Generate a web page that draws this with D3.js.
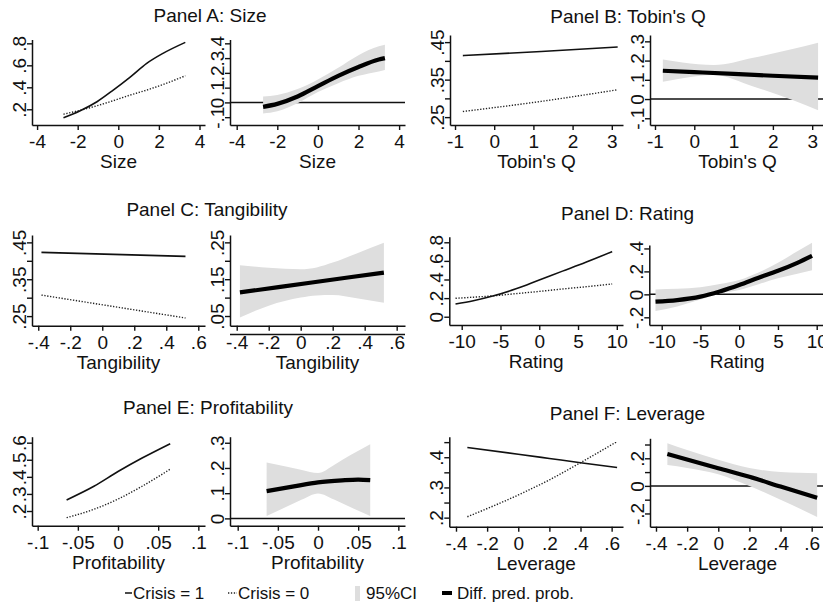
<!DOCTYPE html>
<html><head><meta charset="utf-8">
<script src="https://cdn.jsdelivr.net/npm/d3@7"></script>
<style>
body{margin:0;background:#fff}
svg{display:block}
text{font-family:"Liberation Sans",Arial,Helvetica,sans-serif;fill:#111}
</style>
</head><body>
<svg id="chart" width="823" height="608"></svg>
<script>
// ---------- DATA ----------
// Panel A: Size
const sizeX        = [-2.7, -1.9, -1.05, -0.25, 0.6, 1.4, 2.2, 3.3];
const sizeCrisis1  = [0.124, 0.185, 0.269, 0.375, 0.496, 0.618, 0.709, 0.809];
const sizeCrisis0  = [0.155, 0.19, 0.232, 0.278, 0.33, 0.375, 0.425, 0.505];
const sizeDiffX    = [-2.7, -2, -1, 0, 1, 2, 3, 3.3];
const sizeDiff     = [-0.03, -0.01, 0.04, 0.11, 0.18, 0.24, 0.29, 0.30];
const sizeHi       = [0.04, 0.05, 0.09, 0.155, 0.235, 0.32, 0.38, 0.39];
const sizeLo       = [-0.075, -0.06, -0.005, 0.07, 0.13, 0.18, 0.21, 0.22];
const sizeXTicks   = [-4, -2, 0, 2, 4];
const sizeLYTicks  = [0.2, 0.4, 0.6, 0.8];
const sizeRYTicks  = [-0.1, 0, 0.1, 0.2, 0.3, 0.4];

// Panel B: Tobin's Q
const tobinX       = [-0.8, 1.2, 3.15];
const tobinCrisis1 = [0.414, 0.425, 0.437];
const tobinCrisis0 = [0.265, 0.292, 0.323];
const tobinDiffX   = [-0.8, 0, 1, 2, 3.15];
const tobinDiff    = [0.147, 0.140, 0.131, 0.121, 0.111];
const tobinBandX   = [-0.8, -0.3, 0.5, 1.5, 2.5, 3.15];
const tobinHi      = [0.205, 0.19, 0.177, 0.215, 0.26, 0.293];
const tobinLo      = [0.09, 0.108, 0.125, 0.065, -0.005, -0.058];
const tobinXTicks  = [-1, 0, 1, 2, 3];
const tobinLYTicks = [0.25, 0.3, 0.35, 0.4, 0.45];
const tobinLYLabels= [0.25, 0.35, 0.45];
const tobinRYTicks = [-0.1, 0, 0.1, 0.2, 0.3];

// Panel C: Tangibility
const tangX        = [-0.38, 0.07, 0.52];
const tangCrisis1  = [0.423, 0.4175, 0.412];
const tangCrisis0  = [0.307, 0.276, 0.245];
const tangDiffX    = [-0.38, 0.07, 0.52];
const tangDiff     = [0.114, 0.141, 0.168];
const tangBandX    = [-0.38, -0.2, 0, 0.1, 0.2, 0.35, 0.52];
const tangHi       = [0.188, 0.181, 0.177, 0.182, 0.195, 0.22, 0.249];
const tangLo       = [0.046, 0.078, 0.1, 0.106, 0.107, 0.098, 0.086];
const tangXTicks   = [-0.4, -0.2, 0, 0.2, 0.4, 0.6];
const tangLYTicks  = [0.25, 0.3, 0.35, 0.4, 0.45];
const tangLYLabels = [0.25, 0.35, 0.45];
const tangRYTicks  = [0.05, 0.1, 0.15, 0.2, 0.25];
const tangRYLabels = [0.05, 0.15, 0.25];

// Panel D: Rating
const ratingX        = [-10.8, -8.5, -6, -3, 0, 3, 6, 9.4];
const ratingCrisis1  = [0.137, 0.172, 0.222, 0.30, 0.395, 0.49, 0.585, 0.70];
const ratingCrisis0  = [0.198, 0.21, 0.224, 0.248, 0.272, 0.298, 0.322, 0.352];
const ratingDiffX    = [-10.8, -8, -5, -2.5, 0, 2.5, 5, 7.5, 9.4];
const ratingDiff     = [-0.064, -0.05, -0.02, 0.025, 0.081, 0.145, 0.205, 0.275, 0.336];
const ratingHi       = [0.043, 0.048, 0.062, 0.09, 0.125, 0.19, 0.275, 0.375, 0.449];
const ratingLo       = [-0.145, -0.105, -0.045, 0.008, 0.037, 0.088, 0.14, 0.18, 0.211];
const ratingXTicks   = [-10, -5, 0, 5, 10];
const ratingLYTicks  = [0, 0.2, 0.4, 0.6, 0.8];
const ratingRYTicks  = [-0.2, 0, 0.2, 0.4];

// Panel E: Profitability
const profX        = [-0.064, -0.03, 0, 0.03, 0.065];
const profCrisis1  = [0.265, 0.345, 0.431, 0.51, 0.594];
const profCrisis0  = [0.161, 0.21, 0.27, 0.345, 0.445];
const profDiffX    = [-0.064, -0.03, 0, 0.03, 0.05, 0.065];
const profDiff     = [0.108, 0.127, 0.143, 0.151, 0.154, 0.152];
const profBandX    = [-0.064, -0.04, -0.02, 0, 0.02, 0.04, 0.065];
const profHi       = [0.222, 0.206, 0.192, 0.18, 0.212, 0.25, 0.294];
const profLo       = [0.009, 0.045, 0.075, 0.099, 0.075, 0.045, 0.009];
const profXTicks   = [-0.1, -0.05, 0, 0.05, 0.1];
const profLYTicks  = [0.2, 0.3, 0.4, 0.5, 0.6];
const profRYTicks  = [0, 0.1, 0.2, 0.3];

// Panel F: Leverage
const levX         = [-0.327, 0, 0.2, 0.4, 0.635];
const levCrisis1   = [0.432, 0.41, 0.396, 0.382, 0.366];
const levCrisis0   = [0.203, 0.275, 0.325, 0.382, 0.452];
const levDiffX     = [-0.327, 0, 0.2, 0.4, 0.635];
const levDiff      = [0.231, 0.128, 0.066, -0.005, -0.087];
const levBandX     = [-0.327, -0.2, 0, 0.2, 0.4, 0.635];
const levHi        = [0.309, 0.26, 0.19, 0.13, 0.1, 0.091];
const levLo        = [0.151, 0.13, 0.085, 0.0, -0.1, -0.225];
const levXTicks    = [-0.4, -0.2, 0, 0.2, 0.4, 0.6];
const levLYTicks   = [0.2, 0.25, 0.3, 0.35, 0.4, 0.45];
const levLYLabels  = [0.2, 0.3, 0.4];
const levRYTicks   = [-0.2, -0.1, 0, 0.1, 0.2, 0.3];
const levRYLabels  = [-0.2, 0, 0.2];

const legendLabels = ["Crisis = 1", "Crisis = 0", "95%CI", "Diff. pred. prob."];

// ---------- LAYOUT ----------
const svg = d3.select("#chart");
const BAND = "#dedede";
const FONT = 19;

const fmt = v => {
  if (Math.abs(v) < 1e-9) return "0";
  const s = String(+v.toFixed(4));
  return s.replace(/^(-?)0\./, "$1.");
};
const zip = (xs, ys) => xs.map((x, i) => [x, ys[i]]);

const panels = [
  { title: "Panel A: Size", tx: 210, ty: 22, xlab: "Size", xTicks: sizeXTicks,
    L: { xr: [32, 205], yr: [125, 39.5], xd: [-4.25, 4.27], yd: [0.057, 0.835], yTicks: sizeLYTicks, yLabels: sizeLYTicks },
    R: { xr: [230, 405], yr: [125, 39.5], xd: [-4.33, 4.29], yd: [-0.153, 0.426], yTicks: sizeRYTicks, yLabels: sizeRYTicks },
    c1: zip(sizeX, sizeCrisis1), c0: zip(sizeX, sizeCrisis0), diff: zip(sizeDiffX, sizeDiff),
    band: sizeDiffX.map((x, i) => [x, sizeLo[i], sizeHi[i]]) },
  { title: "Panel B: Tobin's Q", tx: 628, ty: 23, xlab: "Tobin's Q", xTicks: tobinXTicks,
    L: { xr: [450, 623], yr: [125, 35], xd: [-1.128, 3.286], yd: [0.229, 0.469], yTicks: tobinLYTicks, yLabels: tobinLYLabels },
    R: { xr: [650, 825], yr: [125, 35], xd: [-1.127, 3.326], yd: [-0.135, 0.333], yTicks: tobinRYTicks, yLabels: tobinRYTicks },
    c1: zip(tobinX, tobinCrisis1), c0: zip(tobinX, tobinCrisis0), diff: zip(tobinDiffX, tobinDiff),
    band: tobinBandX.map((x, i) => [x, tobinLo[i], tobinHi[i]]) },
  { title: "Panel C: Tangibility", tx: 207, ty: 216, xlab: "Tangibility", xTicks: tangXTicks,
    L: { xr: [32, 205], yr: [325.7, 235], xd: [-0.439, 0.642], yd: [0.224, 0.47], yTicks: tangLYTicks, yLabels: tangLYLabels },
    R: { xr: [230, 405], yr: [325.7, 235], xd: [-0.442, 0.652], yd: [0.0237, 0.27], yTicks: tangRYTicks, yLabels: tangRYLabels },
    c1: zip(tangX, tangCrisis1), c0: zip(tangX, tangCrisis0), diff: zip(tangDiffX, tangDiff),
    band: tangBandX.map((x, i) => [x, tangLo[i], tangHi[i]]) },
  { title: "Panel D: Rating", tx: 627.5, ty: 220, xlab: "Rating", xTicks: ratingXTicks,
    L: { xr: [449.3, 623], yr: [325, 236.7], xd: [-11.6, 10.8], yd: [-0.089, 0.86], yTicks: ratingLYTicks, yLabels: ratingLYTicks },
    R: { xr: [649.3, 825], yr: [325, 245], xd: [-11.6, 11.07], yd: [-0.267, 0.43], yTicks: ratingRYTicks, yLabels: ratingRYTicks },
    c1: zip(ratingX, ratingCrisis1), c0: zip(ratingX, ratingCrisis0), diff: zip(ratingDiffX, ratingDiff),
    band: ratingDiffX.map((x, i) => [x, ratingLo[i], ratingHi[i]]) },
  { title: "Panel E: Profitability", tx: 208, ty: 414, xlab: "Profitability", xTicks: profXTicks,
    L: { xr: [32, 205], yr: [525.7, 436.7], xd: [-0.1071, 0.1083], yd: [0.114, 0.635], yTicks: profLYTicks, yLabels: profLYTicks },
    R: { xr: [230, 405], yr: [525.7, 436.7], xd: [-0.1096, 0.1083], yd: [-0.029, 0.324], yTicks: profRYTicks, yLabels: profRYTicks },
    c1: zip(profX, profCrisis1), c0: zip(profX, profCrisis0), diff: zip(profDiffX, profDiff),
    band: profBandX.map((x, i) => [x, profLo[i], profHi[i]]) },
  { title: "Panel F: Leverage", tx: 627.5, ty: 420, xlab: "Leverage", xTicks: levXTicks,
    L: { xr: [449.3, 623], yr: [526.7, 436.7], xd: [-0.443, 0.673], yd: [0.17, 0.468], yTicks: levLYTicks, yLabels: levLYLabels },
    R: { xr: [650, 825], yr: [526.7, 438.3], xd: [-0.4385, 0.6855], yd: [-0.296, 0.345], yTicks: levRYTicks, yLabels: levRYLabels },
    c1: zip(levX, levCrisis1), c0: zip(levX, levCrisis0), diff: zip(levDiffX, levDiff),
    band: levBandX.map((x, i) => [x, levLo[i], levHi[i]]) }
];

function drawAxes(g, x, y, cfg, xTicks, xlab) {
  const xa = g.append("g").attr("transform", `translate(0,${cfg.yr[0]})`)
    .call(d3.axisBottom(x).tickValues(xTicks).tickSize(5).tickSizeOuter(0).tickFormat(fmt));
  const ya = g.append("g").attr("transform", `translate(${cfg.xr[0]},0)`)
    .call(d3.axisLeft(y).tickValues(cfg.yTicks).tickSize(5).tickSizeOuter(0)
      .tickFormat(v => cfg.yLabels.some(l => Math.abs(l - v) < 1e-9) ? fmt(v) : ""));
  [xa, ya].forEach(a => {
    a.select(".domain").attr("stroke", "#111").attr("stroke-width", 1.5);
    a.selectAll(".tick line").attr("stroke", "#111").attr("stroke-width", 1.4);
    a.selectAll("text").attr("font-size", FONT).attr("fill", "#111")
      .style("font-family", '"Liberation Sans",Arial,sans-serif');
  });
  xa.selectAll(".tick text").attr("y", 23).attr("dy", 0);
  ya.selectAll(".tick text").attr("x", 0).attr("y", -6.5).attr("dy", 0)
    .attr("text-anchor", "middle").attr("transform", "rotate(-90)");
  g.append("text").attr("x", (cfg.xr[0] + cfg.xr[1]) / 2).attr("y", cfg.yr[0] + 43)
    .attr("text-anchor", "middle").attr("font-size", FONT).text(xlab);
}

panels.forEach(p => {
  const g = svg.append("g");
  g.append("text").attr("x", p.tx).attr("y", p.ty).attr("text-anchor", "middle")
    .attr("font-size", FONT).text(p.title);

  // Left: predicted probabilities
  {
    const c = p.L;
    const x = d3.scaleLinear().domain(c.xd).range(c.xr);
    const y = d3.scaleLinear().domain(c.yd).range(c.yr);
    const line = d3.line().x(d => x(d[0])).y(d => y(d[1])).curve(d3.curveMonotoneX);
    g.append("path").attr("d", line(p.c0)).attr("fill", "none").attr("stroke", "#222")
      .attr("stroke-width", 1.4).attr("stroke-dasharray", "1.3,1.6");
    g.append("path").attr("d", line(p.c1)).attr("fill", "none").attr("stroke", "#111")
      .attr("stroke-width", 1.6);
    drawAxes(g, x, y, c, p.xTicks, p.xlab);
  }
  // Right: difference with CI
  {
    const c = p.R;
    const x = d3.scaleLinear().domain(c.xd).range(c.xr);
    const y = d3.scaleLinear().domain(c.yd).range(c.yr);
    g.append("line").attr("x1", c.xr[0]).attr("x2", c.xr[1]).attr("y1", y(0)).attr("y2", y(0))
      .attr("stroke", "#111").attr("stroke-width", 1.5);
    const area = d3.area().x(d => x(d[0])).y0(d => y(d[1])).y1(d => y(d[2])).curve(d3.curveMonotoneX);
    g.append("path").attr("d", area(p.band)).attr("fill", BAND);
    const line = d3.line().x(d => x(d[0])).y(d => y(d[1])).curve(d3.curveMonotoneX);
    g.append("path").attr("d", line(p.diff)).attr("fill", "none").attr("stroke", "#000")
      .attr("stroke-width", 4.2);
    drawAxes(g, x, y, c, p.xTicks, p.xlab);
  }
});

// ---------- LEGEND ----------
const lg = svg.append("g");
const ly = 593, lty = 599, LFONT = 17;
lg.append("line").attr("x1", 125).attr("x2", 132).attr("y1", ly).attr("y2", ly)
  .attr("stroke", "#111").attr("stroke-width", 1.5);
lg.append("text").attr("x", 133).attr("y", lty).attr("font-size", LFONT).text(legendLabels[0]);
lg.append("line").attr("x1", 228).attr("x2", 237).attr("y1", ly).attr("y2", ly)
  .attr("stroke", "#222").attr("stroke-width", 1.3).attr("stroke-dasharray", "1.3,1.6");
lg.append("text").attr("x", 238).attr("y", lty).attr("font-size", LFONT).text(legendLabels[1]);
lg.append("rect").attr("x", 355).attr("y", 586).attr("width", 5).attr("height", 15).attr("fill", BAND);
lg.append("text").attr("x", 366).attr("y", lty).attr("font-size", LFONT).text(legendLabels[2]);
lg.append("line").attr("x1", 442).attr("x2", 452).attr("y1", ly).attr("y2", ly)
  .attr("stroke", "#000").attr("stroke-width", 4);
lg.append("text").attr("x", 457).attr("y", lty).attr("font-size", LFONT).text(legendLabels[3]);
</script>
</body></html>
